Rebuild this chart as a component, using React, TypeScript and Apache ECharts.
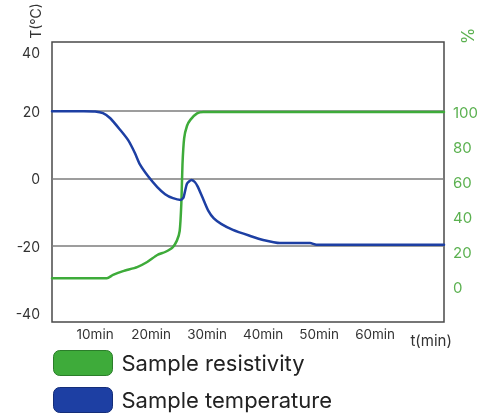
import React, { useEffect, useRef } from "react";
import * as echarts from "echarts";

const seriesNames = ["Sample resistivity", "Sample temperature"];

const tempTime = [2.3, 8, 10, 11.4, 12.7, 14.5, 15.9, 17.1, 18, 19.5, 21.1, 22.5, 23.9, 25.3, 25.8, 26.4, 27.2, 27.8, 28.3, 29.1, 30.2, 31.2, 32.5, 34.6, 37.7, 40, 43, 48.4, 49.5, 72.3];
const tempValues = [20, 20, 19.9, 19.4, 17.9, 14.4, 11.4, 7.6, 4.2, 0.6, -2.5, -4.6, -5.8, -6.3, -5.5, -1.5, -0.4, -1, -2.3, -5.3, -9.5, -11.8, -13.4, -15.2, -17, -18.2, -19.1, -19.1, -19.6, -19.6];

const resTime = [2.3, 12.1, 13.2, 15, 17.5, 19.3, 21.1, 22.5, 23.8, 24.6, 25.1, 25.4, 25.6, 25.9, 26.4, 27, 28.2, 29.3, 72.3];
const resValues = [5, 5, 6.9, 9.1, 11.4, 14.3, 18.3, 20, 22.5, 26.5, 32, 48, 70, 85, 92, 95.5, 99.2, 100, 100];

const tempGridValues = [20, 0, -20];
const xLabelValues = [10, 20, 30, 40, 50, 60];
const leftLabelValues = [-40, -20, 0, 20, 40];

const GREEN = "#3eab3a";
const BLUE = "#1d3fa3";
const FONT = "Inter";

export default function App() {
  const ref = useRef<HTMLDivElement>(null);
  useEffect(() => {
    if (!ref.current) return;
    const chart = echarts.init(ref.current, null, { renderer: "svg" });
    const tempData = tempTime.map((t, i) => [t, tempValues[i]]);
    const resData = resTime.map((t, i) => [t, resValues[i]]);
    chart.setOption({
      animation: false,
      textStyle: { fontFamily: FONT },
      grid: {
        left: 52,
        right: 46,
        top: 42,
        bottom: 93,
        show: true,
        borderColor: "#4a4a4a",
        borderWidth: 1.5,
        containLabel: false,
      },
      legend: {
        orient: "vertical",
        left: 53,
        top: 350,
        padding: 0,
        icon: "roundRect",
        itemWidth: 59,
        itemHeight: 25,
        itemGap: 11,
        data: [
          { name: seriesNames[0], itemStyle: { color: GREEN, borderColor: "#2b7d2a", borderWidth: 1 } },
          { name: seriesNames[1], itemStyle: { color: BLUE, borderColor: "#142d78", borderWidth: 1 } },
        ],
        textStyle: { fontSize: 22, color: "#222", fontFamily: FONT, padding: [0, 0, 0, 4] },
      },
      xAxis: {
        type: "value",
        min: 2.3,
        max: 72.3,
        axisLine: { show: false },
        axisTick: { show: false },
        splitLine: { show: false },
        axisLabel: {
          margin: 5,
          fontSize: 13.5,
          color: "#333",
          fontFamily: FONT,
          formatter: (v: number) => {
            if (v === 70) return "{t|t(min)}";
            return xLabelValues.indexOf(v) >= 0 ? v + "min" : "";
          },
          rich: { t: { padding: [6, 0, 0, 0], fontSize: 15, color: "#333", fontFamily: FONT } },
        },
      },
      yAxis: [
        {
          type: "value",
          min: -42.5,
          max: 40.5,
          axisLine: { show: false },
          axisTick: { show: false },
          splitLine: { show: false },
          axisLabel: {
            margin: 12,
            fontSize: 14,
            color: "#333",
            fontFamily: FONT,
            formatter: (v: number) => {
              if (v === 40) return "{top|40}";
              return leftLabelValues.indexOf(v) >= 0 ? String(v) : "";
            },
            rich: { top: { padding: [18, 0, 0, 0], fontSize: 14, color: "#333", fontFamily: FONT } },
          },
        },
        {
          type: "value",
          position: "right",
          min: -20,
          max: 140,
          interval: 20,
          axisLine: { show: false },
          axisTick: { show: false },
          splitLine: { show: false },
          axisLabel: {
            margin: 9,
            fontSize: 15,
            color: "#5bb150",
            fontFamily: FONT,
            formatter: (v: number) => (v >= 0 && v <= 100 ? String(v) : ""),
          },
        },
      ],
      graphic: [
        {
          type: "text",
          x: 35,
          y: 21,
          rotation: Math.PI / 2,
          style: {
            text: "T(°C)",
            fontSize: 14,
            fill: "#333",
            fontFamily: FONT,
            textAlign: "center",
            textVerticalAlign: "middle",
          },
        },
        {
          type: "text",
          x: 468,
          y: 36,
          rotation: Math.PI / 2,
          style: {
            text: "%",
            fontSize: 17,
            fill: "#5bb150",
            fontFamily: FONT,
            textAlign: "center",
            textVerticalAlign: "middle",
          },
        },
      ],
      series: [
        {
          name: seriesNames[0],
          type: "line",
          yAxisIndex: 1,
          data: resData,
          showSymbol: false,
          symbol: "none",
          smooth: 0.2,
          z: 3,
          lineStyle: { color: GREEN, width: 2.5, join: "round", cap: "round" },
          itemStyle: { color: GREEN },
        },
        {
          name: seriesNames[1],
          type: "line",
          yAxisIndex: 0,
          data: tempData,
          showSymbol: false,
          symbol: "none",
          smooth: 0.2,
          z: 3,
          lineStyle: { color: BLUE, width: 2.5, join: "round", cap: "round" },
          itemStyle: { color: BLUE },
          markLine: {
            silent: true,
            symbol: ["none", "none"],
            z: 1,
            label: { show: false },
            lineStyle: { color: "#7c7c7c", width: 1.5, type: "solid" },
            data: tempGridValues.map((v) => ({ yAxis: v })),
          },
        },
      ],
    });
    return () => chart.dispose();
  }, []);
  return (
    <div
      ref={ref}
      style={{ position: "fixed", left: 0, top: 0, width: 490, height: 415 }}
    />
  );
}
